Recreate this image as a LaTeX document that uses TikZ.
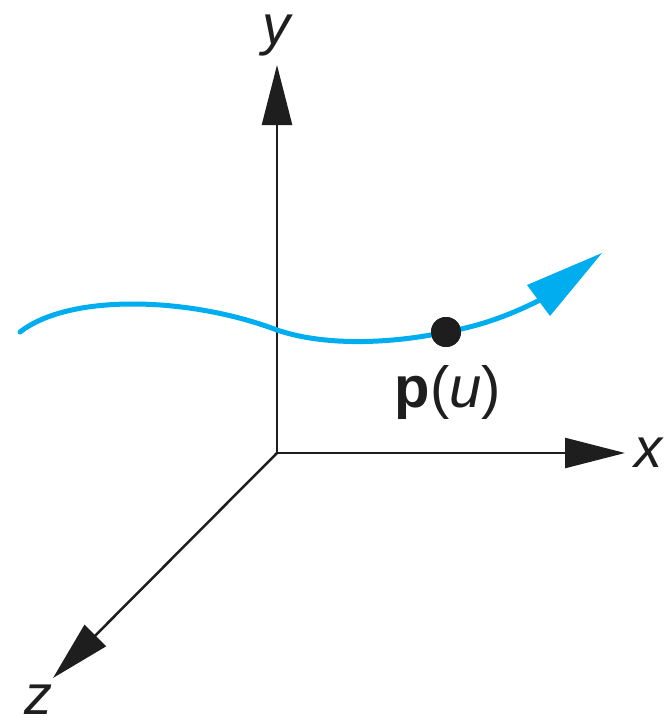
\documentclass[tikz,border=0pt]{standalone}
\usepackage{fontspec}
\setmainfont{Liberation Sans}
\usetikzlibrary{arrows.meta}
\definecolor{curvecyan}{RGB}{0,174,239}
\definecolor{axisblack}{RGB}{30,30,30}
\begin{document}
\begin{tikzpicture}[x=1pt,y=-1pt,
  axis/.style={draw=axisblack, line width=2.5pt, -{Triangle[length=60pt,width=30pt]}},
  lbl/.style={font=\fontsize{56}{58}\selectfont\itshape, inner sep=0pt, text=axisblack},
  curveline/.style={draw=curvecyan, line width=5pt, line cap=round},
  dot/.style={circle, fill=axisblack, minimum size=30pt, inner sep=0pt}]
\useasboundingbox (0,0) rectangle (664,726);
\coordinate (O) at (277,453);
\coordinate (ytip) at (277,65);
\coordinate (xtip) at (625,453);
\coordinate (ztip) at (53,678);
\draw[axis] (O) -- (ytip);
\draw[axis] (O) -- (xtip);
\draw[axis] (O) -- (ztip);
\node[lbl] (ylab) at (276,36) {y};
\node[lbl] (xlab) at (648,453) {x};
\node[lbl] (zlab) at (38,700) {z};
% curve
\coordinate (cstart) at (20,332);
\coordinate (cross) at (277,330);
\coordinate (cend) at (540,300);
\node[dot] (pt) at (446,332) {};
\draw[curveline] (cstart) .. controls (70,293) and (190,297) .. (cross)
  .. controls (330,348) and (400,342) .. (pt.center)
  .. controls (480,326) and (508,316) .. (cend);
\node[dot] at (pt) {};
\coordinate (atip) at (602,253);
\coordinate (ac1) at (527,285);
\coordinate (ac2) at (550,316);
\fill[curvecyan] (atip) -- (ac1) -- (ac2) -- cycle;
\node[font=\fontsize{58}{60}\selectfont, inner sep=0pt, text=axisblack] (plab) at (448,392) {{\bfseries p}({\itshape u})};
\end{tikzpicture}
\end{document}
